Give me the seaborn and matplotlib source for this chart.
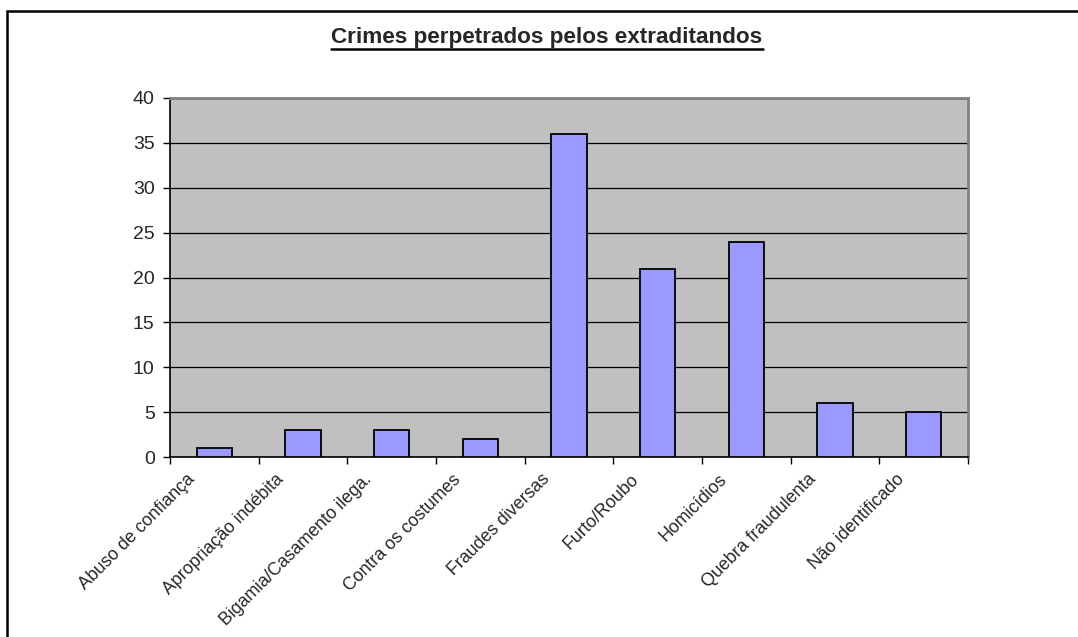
import matplotlib
matplotlib.use("Agg")
import matplotlib.pyplot as plt
import matplotlib.transforms as mtransforms
import seaborn as sns
import pandas as pd
from matplotlib.patches import Rectangle
from matplotlib.lines import Line2D

categories = ["Abuso de confiança", "Apropriação indébita", "Bigamia/Casamento ilega.",
              "Contra os costumes", "Fraudes diversas", "Furto/Roubo", "Homicídios",
              "Quebra fraudulenta", "Não identificado"]
values = [1, 3, 3, 2, 36, 21, 24, 6, 5]
yticks = [0, 5, 10, 15, 20, 25, 30, 35, 40]
title = "Crimes perpetrados pelos extraditandos"

sns.set_style("white")
plt.rcParams['font.family'] = ['Liberation Sans', 'DejaVu Sans']

W, H = 1078, 637
fig = plt.figure(figsize=(W / 100, H / 100), dpi=100)
fig.patch.set_facecolor("white")
ax = fig.add_axes([170 / W, 1 - 457 / H, (968 - 170) / W, (457 - 98) / H])

df = pd.DataFrame({"cat": categories, "val": values})
sns.barplot(data=df, x="cat", y="val", order=categories, color="#9999FF",
            saturation=1, width=0.4, edgecolor="black", linewidth=1.3, ax=ax, zorder=3)

ax.set_facecolor("#C0C0C0")
ax.set_xlim(-0.5, len(categories) - 0.5)
ax.set_ylim(0, 40)
ax.set_yticks(yticks)
ax.set_yticklabels([str(v) for v in yticks], fontsize=14)
ax.yaxis.grid(True, color="black", linewidth=0.9, zorder=0)
ax.set_axisbelow(True)
ax.set_xlabel("")
ax.set_ylabel("")

ax.set_xticks(range(len(categories)))
ax.set_xticklabels(categories, rotation=45, ha="right", rotation_mode="anchor", fontsize=12.8)
ax.tick_params(axis="x", which="major", length=0, pad=10)
shift = mtransforms.ScaledTranslation(-28 / 100, 0, fig.dpi_scale_trans)
for lab in ax.get_xticklabels():
    lab.set_transform(lab.get_transform() + shift)
ax.set_xticks([i - 0.5 for i in range(len(categories) + 1)], minor=True)
ax.tick_params(axis="x", which="minor", length=5, width=1, color="black", direction="out", bottom=True)
ax.tick_params(axis="y", length=5, width=1, color="black", direction="out", left=True, pad=6)

for s in ["left", "bottom"]:
    ax.spines[s].set_color("black")
    ax.spines[s].set_linewidth(1.2)
for s in ["top", "right"]:
    ax.spines[s].set_visible(True)
    ax.spines[s].set_color("#808080")
    ax.spines[s].set_linewidth(2)

# Outer frame of the chart (extends beyond the image on right/bottom)
fig.add_artist(Rectangle((6.5 / W, -0.1), 2, 1 - 10.5 / H + 0.1, transform=fig.transFigure,
                         fill=False, edgecolor="black", linewidth=1.8))

# Underlined bold title
t = fig.text(547 / W, 1 - 43 / H, title, ha="center", va="baseline",
             fontsize=16.2, fontweight="bold")
fig.canvas.draw()
bb = t.get_window_extent(renderer=fig.canvas.get_renderer())
uy = 1 - 49 / H
fig.add_artist(Line2D([bb.x0 / W, bb.x1 / W], [uy, uy], transform=fig.transFigure,
                      color="black", linewidth=1.8))

fig.savefig("out.png", dpi=100)
